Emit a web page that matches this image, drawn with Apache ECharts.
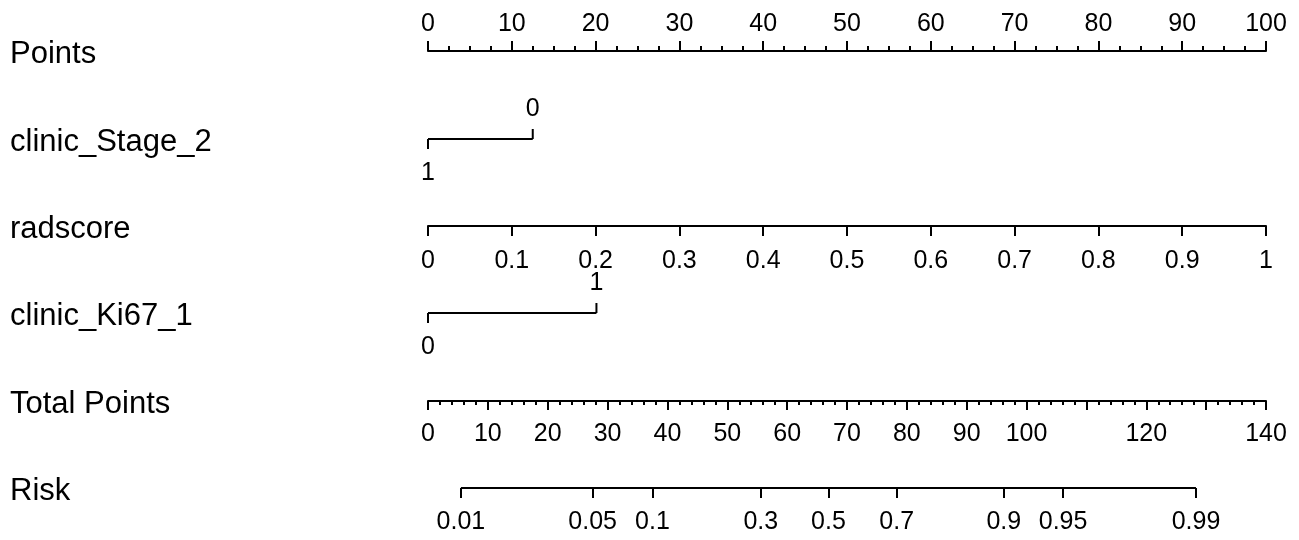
<!DOCTYPE html>
<html>
<head>
<meta charset="utf-8">
<script src="https://cdn.jsdelivr.net/npm/echarts@6/dist/echarts.min.js"></script>
<style>
html,body{margin:0;padding:0;background:#fff;}
#chart{width:1299px;height:540px;}
</style>
</head>
<body>
<div id="chart"></div>
<script>
// ---- data ----
const rowNames = ['Points', 'clinic_Stage_2', 'radscore', 'clinic_Ki67_1', 'Total Points', 'Risk'];
const pointsRange = [0, 100];
const pointsStep = 10;
const stageLevels = ['0', '1'];
const stagePoints = [12.5, 0];
const radscoreRange = [0, 1];
const radscoreStep = 0.1;
const ki67Levels = ['0', '1'];
const ki67Points = [0, 20.1];
const totalPointsRange = [0, 140];
const totalPointsStep = 10;
const totalPointsHiddenLabels = [110, 130];
const riskLabels = ['0.01', '0.05', '0.1', '0.3', '0.5', '0.7', '0.9', '0.95', '0.99'];
const riskTotalPoints = [5.5, 27.5, 37.5, 55.6, 66.9, 78.3, 96.2, 106.1, 128.3];

// ---- layout / style ----
const FONT = '"Liberation Sans", Arial, sans-serif';
const INK = '#000';
const LAYOUT = { left: 428, right: 33, rowY: [51, 139, 226, 313, 401, 488], labelX: 10 };
const tickFont = 25, rowFont = 31;

const chart = echarts.init(document.getElementById('chart'), null, { renderer: 'canvas' });

const grids = LAYOUT.rowY.map((y, i) => ({
  left: LAYOUT.left, right: LAYOUT.right,
  top: i === 0 ? y : y - 1, height: 1,
  outerBoundsMode: 'none', containLabel: false
}));

const lineStyle = { color: INK, width: 2 };
const labelBase = { color: INK, fontSize: tickFont, fontFamily: FONT };

const hiddenX = (g, range) => ({ gridIndex: g, type: 'value', min: range[0], max: range[1], show: false });

const xAxes = [
  { gridIndex: 0, type: 'value', position: 'top', min: pointsRange[0], max: pointsRange[1], interval: pointsStep,
    axisLine: { show: true, onZero: false, lineStyle },
    axisTick: { show: true, length: 10, lineStyle },
    minorTick: { show: true, splitNumber: 4, length: 5, lineStyle },
    splitLine: { show: false }, minorSplitLine: { show: false },
    axisLabel: Object.assign({ margin: 14, interval: 0, showMinLabel: true, showMaxLabel: true }, labelBase) },
  hiddenX(1, pointsRange),
  { gridIndex: 2, type: 'value', position: 'bottom', min: radscoreRange[0], max: radscoreRange[1], interval: radscoreStep,
    axisLine: { show: true, onZero: false, lineStyle },
    axisTick: { show: true, length: 10, lineStyle },
    splitLine: { show: false },
    axisLabel: Object.assign({ margin: 23, showMinLabel: true, showMaxLabel: true }, labelBase) },
  hiddenX(3, pointsRange),
  { gridIndex: 4, type: 'value', position: 'bottom', min: totalPointsRange[0], max: totalPointsRange[1], interval: totalPointsStep,
    axisLine: { show: true, onZero: false, lineStyle },
    axisTick: { show: true, length: 9, lineStyle },
    minorTick: { show: true, splitNumber: 5, length: 4, lineStyle },
    splitLine: { show: false }, minorSplitLine: { show: false },
    axisLabel: Object.assign({ margin: 21, showMinLabel: true, showMaxLabel: true,
      formatter: v => totalPointsHiddenLabels.indexOf(v) >= 0 ? '' : String(v) }, labelBase) },
  { gridIndex: 5, type: 'value', position: 'bottom', min: totalPointsRange[0], max: totalPointsRange[1],
    axisLine: { show: false, onZero: false },
    axisTick: { show: true, length: 10, lineStyle, customValues: riskTotalPoints },
    splitLine: { show: false },
    axisLabel: Object.assign({ margin: 22, customValues: riskTotalPoints,
      formatter: v => { const k = riskTotalPoints.indexOf(v); return k >= 0 ? riskLabels[k] : ''; } }, labelBase) }
];

const yAxes = LAYOUT.rowY.map((y, i) => ({ gridIndex: i, type: 'value', min: 0, max: 1, show: false }));

function segment(axisIdx, pts) {
  return { type: 'line', xAxisIndex: axisIdx, yAxisIndex: axisIdx, silent: true, clip: false, animation: false,
    symbol: 'none', lineStyle: { color: INK, width: 2 },
    data: [[Math.min.apply(null, pts), 0], [Math.max.apply(null, pts), 0]] };
}

function levelSeries(axisIdx, levels, pts) {
  const top = Math.max.apply(null, pts);
  return { type: 'custom', xAxisIndex: axisIdx, yAxisIndex: axisIdx, silent: true, clip: false, animation: false,
    data: pts.map((p, i) => [p, 0, i]),
    renderItem: function (params, api) {
      const v = api.value(0);
      const i = api.value(2);
      const c = api.coord([v, 0]);
      const up = v === top;
      const dir = up ? -1 : 1;
      return { type: 'group', children: [
        { type: 'line', shape: { x1: c[0], y1: c[1], x2: c[0], y2: c[1] + dir * 10 }, style: { stroke: INK, lineWidth: 2 } },
        { type: 'text', x: c[0], y: c[1] + (up ? -30 : 34),
          style: { text: levels[i], fill: INK, font: tickFont + 'px ' + FONT, align: 'center', verticalAlign: 'middle' } }
      ] };
    } };
}

const series = [
  segment(1, stagePoints), levelSeries(1, stageLevels, stagePoints),
  segment(3, ki67Points), levelSeries(3, ki67Levels, ki67Points),
  segment(5, [riskTotalPoints[0], riskTotalPoints[riskTotalPoints.length - 1]])
];

const graphics = rowNames.map((name, i) => ({
  type: 'text', x: LAYOUT.labelX, y: LAYOUT.rowY[i] + 3, silent: true,
  style: { text: name, fill: INK, font: rowFont + 'px ' + FONT, align: 'left', verticalAlign: 'middle', textVerticalAlign: 'middle' }
}));

chart.setOption({
  backgroundColor: '#fff',
  animation: false,
  grid: grids,
  xAxis: xAxes,
  yAxis: yAxes,
  series: series,
  graphic: graphics
});
</script>
</body>
</html>
